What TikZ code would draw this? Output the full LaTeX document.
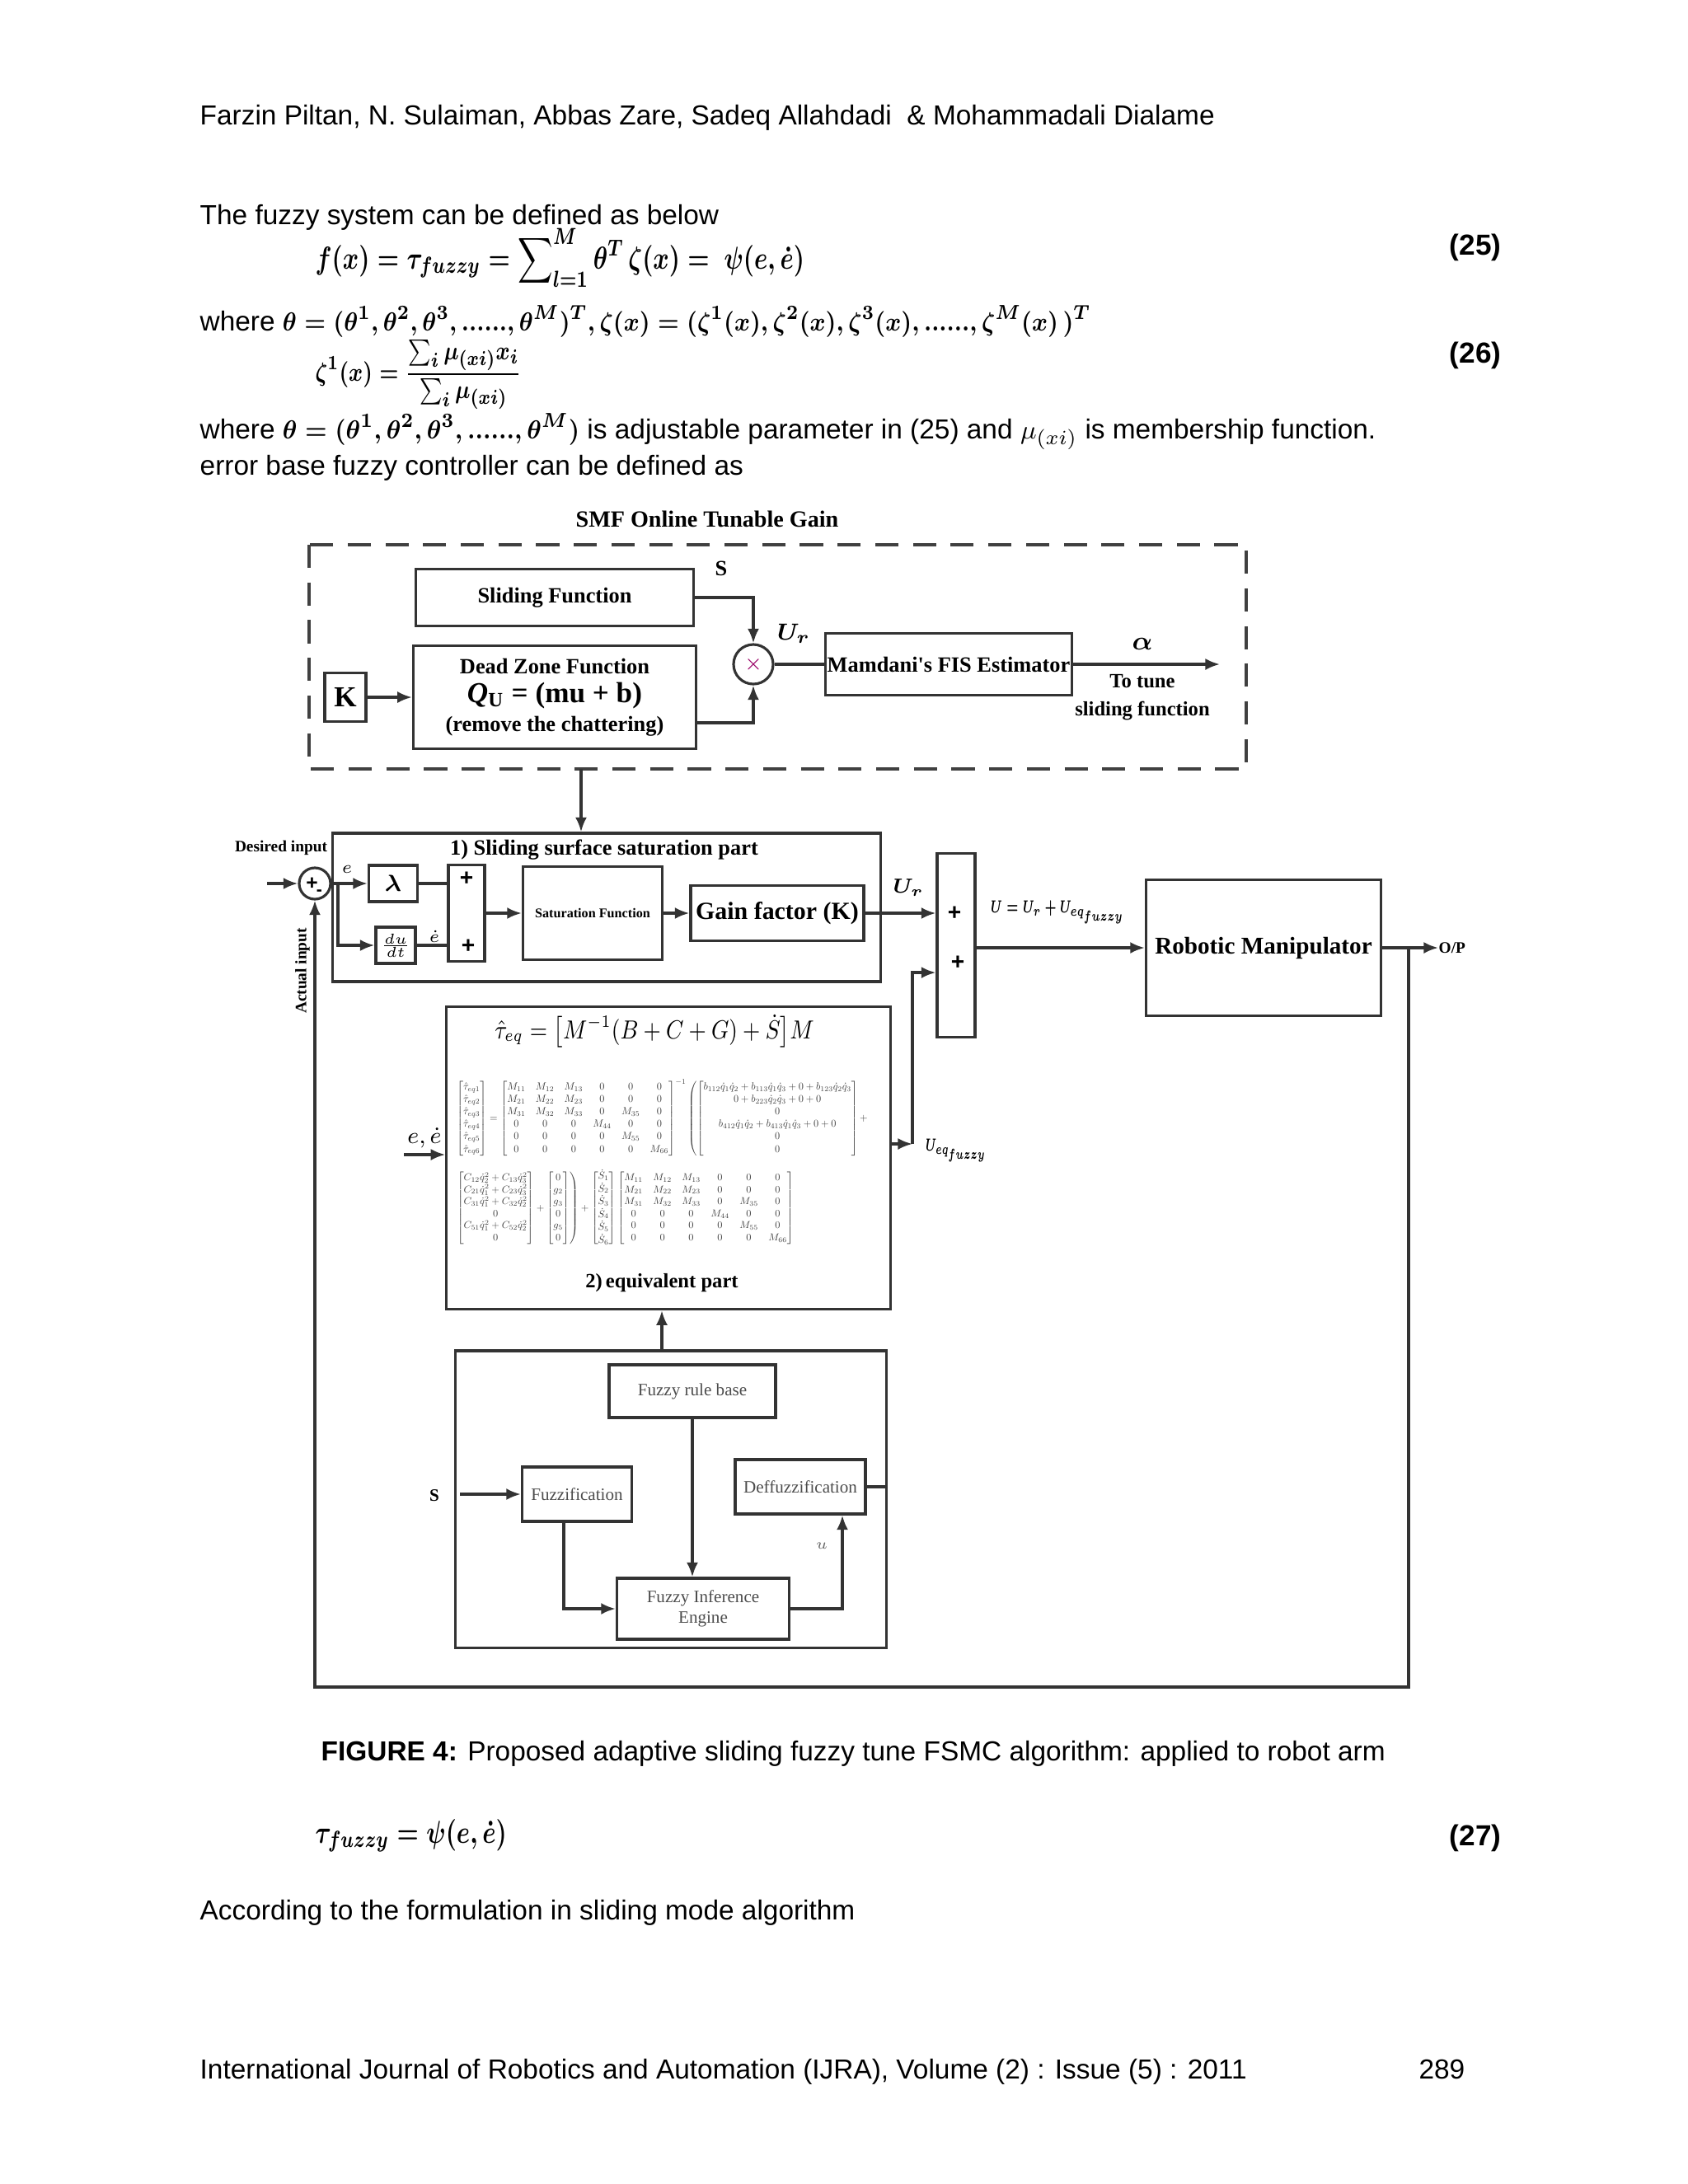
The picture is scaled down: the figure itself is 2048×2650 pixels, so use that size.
\documentclass[tikz,border=0pt]{standalone}
\usepackage{amsmath}
\usepackage{graphicx}
\usepackage{fontspec}
\setmainfont{Liberation Sans}
\newfontfamily\figfont{Liberation Serif}
\usepackage{tikz}
\usetikzlibrary{positioning, calc, arrows.meta}
\tikzset{
	bodytext/.style={font=\fontsize{9.5}{11.4}\selectfont, inner sep=0pt, anchor=base west}
}
\tikzset{
	blk/.style={draw=black!80, line width=0.9pt, inner sep=0pt, align=center, font=\figfont\bfseries\fontsize{7.5}{8.5}\selectfont},
	fzblk/.style={draw=black!80, line width=0.9pt, inner sep=0pt, align=center, font=\figfont\fontsize{6}{7}\selectfont\color{black!70}},
	wire/.style={draw=black!80, line width=0.9pt},
	lbl/.style={font=\figfont\bfseries\fontsize{7.5}{8.5}\selectfont, inner sep=0pt, align=center}
}
\newcommand{\qd}[1]{\dot q_{#1}}
\newcommand{\bmath}[1]{{\boldmath$#1$}}
\newcommand{\hfit}[2]{\resizebox{#1}{\height}{#2}}
\newcommand{\sixdots}{{.}{.}{.}{.}{.}{.}}

\begin{document}
\begin{tikzpicture}[x=0.01cm, y=-0.01cm, >={Latex[length=5pt,width=4pt]}]
      \useasboundingbox (0,0) rectangle (2048,2650);
      \node[bodytext] (hdr) at (242,151) {Farzin Piltan, N. Sulaiman, Abbas Zare, Sadeq Allahdadi\ \ \& Mohammadali Dialame};
      \node[bodytext] (intro) at (242,272) {The fuzzy system can be defined as below};
      \node[anchor=base west, inner sep=0pt, font=\fontsize{11}{13}\selectfont] (eqa) at (382,326) {\hfit{5.93cm}{\bmath{f(x) = \tau_{fuzzy} = \displaystyle\sum\nolimits_{l=1}^{M}\theta^{T}\,\zeta(x) = \ \psi(e,\dot e)}}};
      \node[bodytext, anchor=base east, font=\bfseries\fontsize{10}{12}\selectfont] (numa) at (1822,309) {(25)};
      \node[bodytext] (wherea) at (242,401) {where \hfit{9.8cm}{\bmath{\theta = (\theta^{1},\theta^{2},\theta^{3},\sixdots,\theta^{M})^{T},\zeta(x) = (\zeta^{1}(x),\zeta^{2}(x),\zeta^{3}(x),\sixdots,\zeta^{M}(x)\,)^{T}}}};
      \node[anchor=base west, inner sep=0pt, font=\fontsize{9.5}{11}\selectfont] (eqb) at (382,462) {\hfit{2.5cm}{\bmath{\zeta^{1}(x) = \dfrac{\sum_{i}\mu_{(xi)}x_{i}}{\sum_{i}\mu_{(xi)}}}}};
      \node[bodytext, anchor=base east, font=\bfseries\fontsize{10}{12}\selectfont] (numb) at (1822,440) {(26)};
      \node[bodytext] (whereb) at (242,532) {where \hfit{3.6cm}{\bmath{\theta = (\theta^{1},\theta^{2},\theta^{3},\sixdots,\theta^{M})}} is adjustable parameter in (25) and $\mu_{(xi)}$ is membership function.};
      \node[bodytext] (errb) at (242,576) {error base fuzzy controller can be defined as};

      \node[lbl, font=\figfont\bfseries\fontsize{8}{9}\selectfont] (tgtitle) at (858,630) {SMF Online Tunable Gain};
      \draw[black!75, line width=1.3pt, dash pattern=on 8pt off 5pt] (375,661) rectangle (1512,933);
      \node[blk, minimum width=3.37cm, minimum height=0.69cm] (slfun) at (673,725) {Sliding Function};
      \node[blk, minimum width=3.43cm, minimum height=1.25cm, font=\figfont\bfseries\fontsize{7.5}{10}\selectfont] (dzone) at (673,846) {Dead Zone Function\\{\fontsize{10}{11}\selectfont\textit{Q}\textsubscript{U} = (mu + b)}\\(remove the chattering)};
      \node[blk, minimum width=0.5cm, minimum height=0.59cm, font=\figfont\bfseries\fontsize{10}{11}\selectfont] (kbox) at (419,846) {K};
      \node[draw=black!80, line width=0.9pt, circle, minimum size=0.48cm, inner sep=0pt, font=\scriptsize, text=red!60!blue] (mult) at (914,806) {$\times$};
      \node[blk, minimum width=2.99cm, minimum height=0.75cm] (mamd) at (1151,806) {Mamdani's FIS Estimator};
      \node[lbl] (slab) at (875,690) {S};
      \node[lbl, font=\fontsize{8}{9}\selectfont] (urlab) at (963,769) {\bmath{U_r}};
      \node[lbl, font=\fontsize{9}{10}\selectfont] (alab) at (1386,781) {\bmath{\alpha}};
      \node[lbl, font=\figfont\bfseries\fontsize{7}{9.5}\selectfont] (tune) at (1386,846) {To tune\\sliding function};
      \coordinate (aout) at (1480,806);
      \coordinate (tgout) at (705,933);
      \draw[wire,->] (slfun.east) -| (mult.north);
      \draw[wire,->] ([yshift=-0.31cm]dzone.east) -| (mult.south);
      \draw[wire,->] (kbox.east) -- (dzone.west);
      \draw[wire] (mult.east) -- (mamd.west);
      \draw[wire,->] (mamd.east) -- (aout);

      \node[blk, minimum width=6.64cm, minimum height=1.8cm] (ssbox) at (736,1101) {};
      \node[lbl] (sstitle) at (733,1031) {1) Sliding surface saturation part};
      \draw[wire,->] (tgout) -- (tgout |- ssbox.north);
      \node[draw=black!80, line width=0.9pt, circle, minimum size=0.38cm, inner sep=0pt] (sumj) at (382,1072) {};
      \node[font=\bfseries\fontsize{7}{7}\selectfont, inner sep=0pt] (sumjp) at ([xshift=-1pt]sumj.center) {+};
      \node[font=\bfseries\fontsize{6}{6}\selectfont, inner sep=0pt] (sumjm) at ([xshift=1.5pt,yshift=-3.2pt]sumj.center) {-};
      \node[lbl, font=\figfont\bfseries\fontsize{5.5}{6}\selectfont] (dinlab) at (341,1029) {Desired input};
      \node[lbl, font=\figfont\bfseries\fontsize{5.5}{6}\selectfont, rotate=90] (actlab) at (367,1178) {Actual input};
      \coordinate (din) at (324,1072);
      \draw[wire,->] (din) -- (sumj.west);
      \node[blk, minimum width=0.59cm, minimum height=0.44cm, font=\fontsize{8}{9}\selectfont] (lam) at (477,1072) {\bmath{\lambda}};
      \node[blk, minimum width=0.48cm, minimum height=0.44cm, font=\fontsize{5}{5}\selectfont] (ddt) at (480,1147) {$\frac{du}{dt}$};
      \node[lbl, font=\fontsize{6}{7}\selectfont] (elab) at (421,1055) {$e$};
      \node[lbl, font=\fontsize{6}{7}\selectfont] (edlab) at (527,1136) {$\dot e$};
      \coordinate (ebr) at (410,1072);
      \draw[wire,->] (sumj.east) -- (lam.west);
      \draw[wire,->] (ebr) |- (ddt.west);
      \node[blk, minimum width=0.44cm, minimum height=1.17cm] (pbox) at (566,1108) {};
      \node[lbl, font=\bfseries\fontsize{8}{8}\selectfont] (pboxa) at (566,1066) {+};
      \node[lbl, font=\bfseries\fontsize{8}{8}\selectfont] (pboxb) at (568,1148) {+};
      \draw[wire] (lam.east) -- (lam.east -| pbox.west);
      \draw[wire] (ddt.east) -- (ddt.east -| pbox.west);
      \node[blk, minimum width=1.69cm, minimum height=1.13cm, font=\figfont\bfseries\fontsize{4.6}{5}\selectfont] (sat) at (719,1108) {Saturation Function};
      \node[blk, minimum width=2.1cm, minimum height=0.67cm, font=\figfont\bfseries\fontsize{8.5}{9}\selectfont] (gain) at (943,1108) {Gain factor (K)};
      \draw[wire,->] (pbox.east) -- (sat.west);
      \draw[wire,->] (sat.east) -- (gain.west);
      \node[blk, minimum width=0.46cm, minimum height=2.23cm] (sumb) at (1160,1147) {};
      \node[lbl, font=\bfseries\fontsize{8}{8}\selectfont] (sumba) at (1158,1108) {+};
      \node[lbl, font=\bfseries\fontsize{8}{8}\selectfont] (sumbb) at (1162,1168) {+};
      \draw[wire,->] (gain.east) -- (gain.east -| sumb.west);
      \node[lbl, font=\fontsize{7}{8}\selectfont] (urlabb) at (1102,1077) {\bmath{U_r}};
      \node[blk, minimum width=2.85cm, minimum height=1.65cm, font=\figfont\bfseries\fontsize{8.3}{9}\selectfont] (robot) at (1533,1150) {Robotic Manipulator};
      \draw[wire,->] (sumb.east |- robot.west) -- (robot.west);
      \node[lbl, font=\fontsize{6.5}{7}\selectfont] (ulab) at (1283,1107) {\hfit{1.62cm}{\bmath{U = U_r + U_{eq_{fuzzy}}}}};
      \coordinate (op) at (1745,1150);
      \coordinate (fb) at (1709,1150);
      \coordinate (fbc) at (1709,2047);
      \draw[wire,->] (robot.east) -- (op);
      \node[lbl, font=\figfont\bfseries\fontsize{5.5}{6}\selectfont, anchor=west] (oplab) at (op) {O/P};
      \draw[wire,->] (fb) -- (fbc) -| (sumj.south);

      \node[blk, minimum width=5.38cm, minimum height=3.67cm] (eqbox) at (811,1405) {};
      \node[inner sep=0pt, font=\fontsize{9}{11}\selectfont] (eqtitle) at (794,1251) {\hfit{3.87cm}{$\hat\tau_{eq} = \bigl[M^{-1}(B + C + G) + \dot S\bigr]M$}};
      \node[inner sep=0pt, text=black!75] (mata) at (804,1356) {\resizebox*{5.0cm}{0.93cm}{$\begin{bmatrix}\hat\tau_{eq1}\\ \hat\tau_{eq2}\\ \hat\tau_{eq3}\\ \hat\tau_{eq4}\\ \hat\tau_{eq5}\\ \hat\tau_{eq6}\end{bmatrix} = \begin{bmatrix} M_{11}&M_{12}&M_{13}&0&0&0\\ M_{21}&M_{22}&M_{23}&0&0&0\\ M_{31}&M_{32}&M_{33}&0&M_{35}&0\\ 0&0&0&M_{44}&0&0\\ 0&0&0&0&M_{55}&0\\ 0&0&0&0&0&M_{66}\end{bmatrix}^{-1}\left(\begin{bmatrix} b_{112}\qd1\qd2 + b_{113}\qd1\qd3 + 0 + b_{123}\qd2\qd3\\ 0 + b_{223}\qd2\qd3 + 0 + 0\\ 0\\ b_{412}\qd1\qd2 + b_{413}\qd1\qd3 + 0 + 0\\ 0\\ 0\end{bmatrix} + \right.$}};
      \node[inner sep=0pt, text=black!75] (matb) at (758,1466) {\resizebox*{4.1cm}{0.93cm}{$\left.\begin{bmatrix} C_{12}\qd2^{2} + C_{13}\qd3^{2}\\ C_{21}\qd1^{2} + C_{23}\qd3^{2}\\ C_{31}\qd1^{2} + C_{32}\qd2^{2}\\ 0\\ C_{51}\qd1^{2} + C_{52}\qd2^{2}\\ 0\end{bmatrix} + \begin{bmatrix}0\\ g_{2}\\ g_{3}\\ 0\\ g_{5}\\ 0\end{bmatrix}\right) + \begin{bmatrix}\dot S_{1}\\ \dot S_{2}\\ \dot S_{3}\\ \dot S_{4}\\ \dot S_{5}\\ \dot S_{6}\end{bmatrix}\begin{bmatrix} M_{11}&M_{12}&M_{13}&0&0&0\\ M_{21}&M_{22}&M_{23}&0&0&0\\ M_{31}&M_{32}&M_{33}&0&M_{35}&0\\ 0&0&0&M_{44}&0&0\\ 0&0&0&0&M_{55}&0\\ 0&0&0&0&0&M_{66}\end{bmatrix}$}};
      \node[lbl, font=\figfont\bfseries\fontsize{7}{8}\selectfont] (eqlab) at (803,1557) {2)\,equivalent part};
      \node[lbl, font=\fontsize{8}{9}\selectfont] (eelab) at (515,1381) {$e,\dot e$};
      \coordinate (ein) at (490,1401);
      \draw[wire,->] (ein) -- (ein -| eqbox.west);
      \coordinate (ueq) at (1107,1388);
      \draw[wire,->] (eqbox.east |- ueq) -- (ueq);
      \draw[wire,->] (ueq) |- ([yshift=-9.4pt]sumb.west);
      \node[lbl, font=\fontsize{6.5}{7}\selectfont] (ueqlab) at (1160,1396) {\hfit{0.74cm}{\bmath{U_{eq_{fuzzy}}}}};

      \node[blk, minimum width=5.22cm, minimum height=3.6cm] (fzbox) at (814,1819) {};
      \coordinate (fzup) at (803,1639);
      \draw[wire,->] (fzup) -- (fzup |- eqbox.south);
      \node[fzblk, minimum width=2.02cm, minimum height=0.64cm] (rule) at (840,1688) {Fuzzy rule base};
      \node[fzblk, minimum width=1.33cm, minimum height=0.66cm] (fuzzif) at (700,1813) {Fuzzification};
      \node[fzblk, minimum width=1.58cm, minimum height=0.66cm] (defuzz) at (971,1804) {Deffuzzification};
      \node[fzblk, minimum width=2.09cm, minimum height=0.74cm] (infer) at (853,1952) {Fuzzy Inference\\Engine};
      \node[lbl, font=\figfont\bfseries\fontsize{6}{7}\selectfont] (sflab) at (527,1815) {S};
      \node[lbl, font=\fontsize{5.5}{6}\selectfont, text=black!60] (ulabf) at (997,1876) {$u$};
      \coordinate (sin) at (558,1813);
      \draw[wire,->] (sin) -- (fuzzif.west);
      \draw[wire,->] (rule.south) -- (rule.south |- infer.north);
      \draw[wire,->] ([xshift=-0.16cm]fuzzif.south) |- (infer.west);
      \draw[wire,->] (infer.east) -| ([xshift=0.51cm]defuzz.south);
      \draw[wire] (defuzz.east) -- (defuzz.east -| fzbox.east);

      \node[bodytext] (cap) at (389,2136) {\textbf{FIGURE 4:} Proposed adaptive sliding fuzzy tune FSMC algorithm: applied to robot arm};
      \node[anchor=base west, inner sep=0pt, font=\fontsize{11}{13}\selectfont] (eqc) at (382,2236) {\hfit{2.32cm}{\bmath{\tau_{fuzzy} = \psi(e,\dot e)}}};
      \node[bodytext, anchor=base east, font=\bfseries\fontsize{10}{12}\selectfont] (numc) at (1822,2239) {(27)};
      \node[bodytext] (accord) at (242,2329) {According to the formulation in sliding mode algorithm};
      \node[bodytext] (foot) at (242,2522) {International Journal of Robotics and Automation (IJRA), Volume (2) : Issue (5) : 2011};
      \node[bodytext, anchor=base east] (page) at (1778,2522) {289};
\end{tikzpicture}
\end{document}
